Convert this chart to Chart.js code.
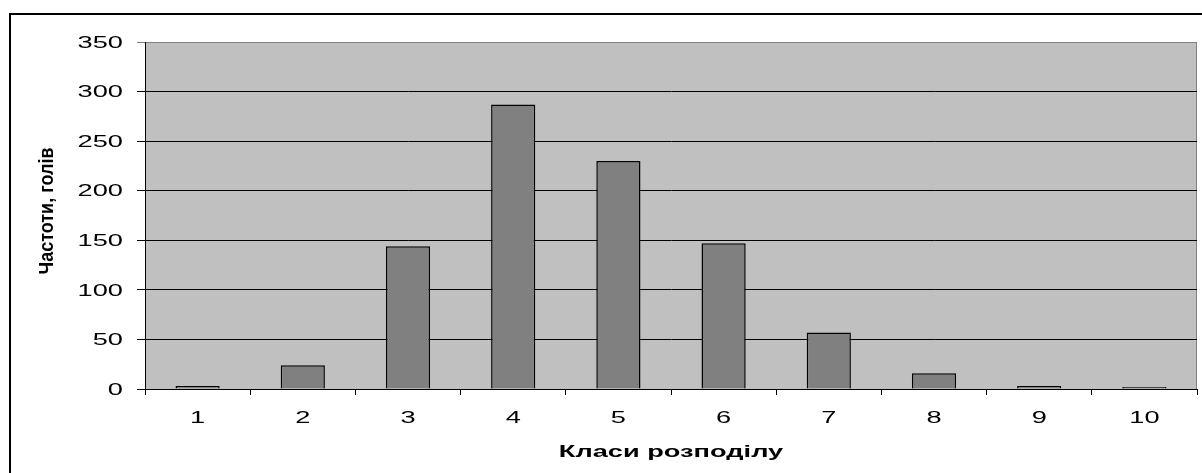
<!DOCTYPE html>
<html>
<head>
<meta charset="utf-8">
<script src="https://cdn.jsdelivr.net/npm/chart.js@4.4.0/dist/chart.umd.min.js"></script>
<style>
	html, body { margin: 0; padding: 0; background: #fff; }
	#wrap { width: 1202px; height: 473px; }
</style>
</head>
<body>
<div id="wrap"><canvas id="chart" width="1202" height="473"></canvas></div>
<script>
'use strict';

// data
var classes = ['1', '2', '3', '4', '5', '6', '7', '8', '9', '10'];
var frequencies = [3, 24, 144, 287, 230, 147, 57, 16, 3, 2];
var yMin = 0,
	yMax = 350,
	yStep = 50;
var xTitle = 'Класи розподілу',
	yTitle = 'Частоти, голів';

var FONT = '"Liberation Sans", Arial, sans-serif';

// the source picture is stretched sideways, so text is drawn wider than normal
function stretchText(ctx, text, x, y, sx, sy, align, baseline) {
	ctx.save();
	ctx.translate(x, y);
	ctx.scale(sx, sy);
	ctx.textAlign = align;
	ctx.textBaseline = baseline;
	ctx.fillText(text, 0, 0);
	ctx.restore();
}

var framePlugin = {
	id: 'frame',
	beforeDraw: function (chart) {
		var ctx = chart.ctx,
			area = chart.chartArea;
		ctx.save();
		ctx.fillStyle = '#fff';
		ctx.fillRect(0, 0, chart.width, chart.height);
		// outer chart border, runs off the right and bottom
		ctx.fillStyle = '#000';
		ctx.fillRect(9, 13, chart.width, 2);
		ctx.fillRect(9, 13, 2, chart.height);
		// plot area
		ctx.fillStyle = '#c0c0c0';
		ctx.fillRect(area.left, area.top, area.right - area.left, area.bottom - area.top);
		ctx.strokeStyle = '#808080';
		ctx.lineWidth = 1;
		ctx.strokeRect(area.left + 0.5, area.top + 0.5, area.right - area.left - 1, area.bottom - area.top);
		ctx.restore();
	},
	afterDraw: function (chart) {
		var ctx = chart.ctx,
			area = chart.chartArea,
			xScale = chart.scales.x,
			yScale = chart.scales.y;

		ctx.save();
		ctx.fillStyle = '#000';

		ctx.font = '17px ' + FONT;
		yScale.ticks.forEach(function (tick) {
			stretchText(ctx, String(tick.value), 123, yScale.getPixelForValue(tick.value) + 1, 1.6, 1, 'right', 'middle');
		});
		xScale.ticks.forEach(function (tick, i) {
			stretchText(ctx, classes[i], xScale.getPixelForTick(i), 418, 1.6, 1, 'center', 'middle');
		});

		ctx.font = 'bold 17px ' + FONT;
		stretchText(ctx, xTitle, (area.left + area.right) / 2, 457, 1.6, 1, 'center', 'alphabetic');

		// y title reads upwards; its letters are squat and thick
		ctx.translate(47, 211);
		ctx.rotate(-Math.PI / 2);
		ctx.font = 'bold 18px ' + FONT;
		stretchText(ctx, yTitle, 0, 0, 1, 1.15, 'center', 'middle');
		ctx.restore();
	}
};

new Chart(document.getElementById('chart'), {
	type: 'bar',
	data: {
		labels: classes,
		datasets: [{
			data: frequencies,
			backgroundColor: '#808080',
			borderColor: '#000',
			borderWidth: 1.5,
			barPercentage: 0.42,
			categoryPercentage: 1
		}]
	},
	options: {
		responsive: false,
		animation: false,
		devicePixelRatio: 1,
		layout: {
			padding: { left: 0, top: 42, right: 5, bottom: 0 }
		},
		plugins: {
			legend: { display: false },
			title: { display: false },
			tooltip: { enabled: false }
		},
		scales: {
			x: {
				type: 'category',
				offset: true,
				afterFit: function (scale) { scale.height = 84; },
				grid: {
					display: true,
					offset: true,
					drawOnChartArea: false,
					drawTicks: true,
					tickLength: 6,
					color: '#000',
					lineWidth: 1
				},
				border: { display: true, color: '#000', width: 1 },
				ticks: { display: false }
			},
			y: {
				min: yMin,
				max: yMax,
				afterFit: function (scale) { scale.width = 145; },
				grid: {
					drawTicks: true,
					tickLength: 8,
					lineWidth: 1,
					color: function (c) {
						return c.tick && c.tick.value === yMax ? '#808080' : '#000';
					}
				},
				border: { display: true, color: '#000', width: 1 },
				ticks: { display: false, stepSize: yStep }
			}
		}
	},
	plugins: [framePlugin]
});
</script>
</body>
</html>
